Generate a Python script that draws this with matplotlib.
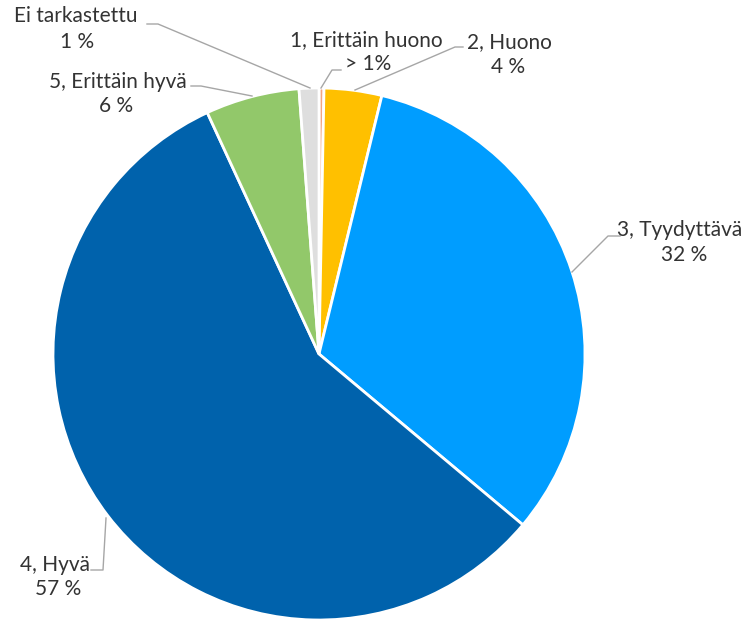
import matplotlib.pyplot as plt

# slices, clockwise from the top
labels = ['1, Erittäin huono', '2, Huono', '3, Tyydyttävä', '4, Hyvä', '5, Erittäin hyvä', 'Ei tarkastettu']
values = [0.3, 3.5, 32.3, 57.0, 5.7, 1.2]
pct_text = ['> 1%', '4 %', '32 %', '57 %', '6 %', '1 %']
colors = ['#F4A582', '#FFC000', '#009DFF', '#0062AC', '#92C86A', '#DEDEDE']

plt.rcParams['font.family'] = ['Lato', 'DejaVu Sans']

fig = plt.figure(figsize=(7.5, 6.19), dpi=100)
ax = fig.add_axes([0, 0, 1, 1])
ax.set_xlim(0, 750)
ax.set_ylim(0, 619)
ax.set_aspect('equal')

H = 619
ax.pie(values, colors=colors, startangle=90, counterclock=False,
       center=(319, H - 354), radius=266, frame=True,
       wedgeprops=dict(edgecolor='white', linewidth=2))
ax.axis('off')

# label centres (px): name line, percent line; leader line points (px)
label_pos = {
    '1, Erittäin huono': ((366, 40), (368, 64), [(341, 70), (332, 70), (321, 88)]),
    '2, Huono': ((509, 42), (508, 67), [(463, 47), (455, 47), (355, 90)]),
    '3, Tyydyttävä': ((680, 230), (684, 255), [(620, 236), (608, 236), (572, 272)]),
    '4, Hyvä': ((55, 565), (58, 589), [(91, 570), (103, 570), (106, 518)]),
    '5, Erittäin hyvä': ((118, 82), (116, 106), [(191, 86), (201, 86), (252, 96)]),
    'Ei tarkastettu': ((76, 16), (77, 42), [(147, 24), (158, 24), (310, 88)]),
}

for lab, pct in zip(labels, pct_text):
    (x1, y1), (x2, y2), pts = label_pos[lab]
    ax.text(x1, H - y1, lab, ha='center', va='center', fontsize=15, color='#333333')
    ax.text(x2, H - y2, pct, ha='center', va='center', fontsize=15, color='#333333')
    ax.plot([p[0] for p in pts], [H - p[1] for p in pts], color='#A6A6A6', lw=1)

plt.savefig('out.png', dpi=100)
